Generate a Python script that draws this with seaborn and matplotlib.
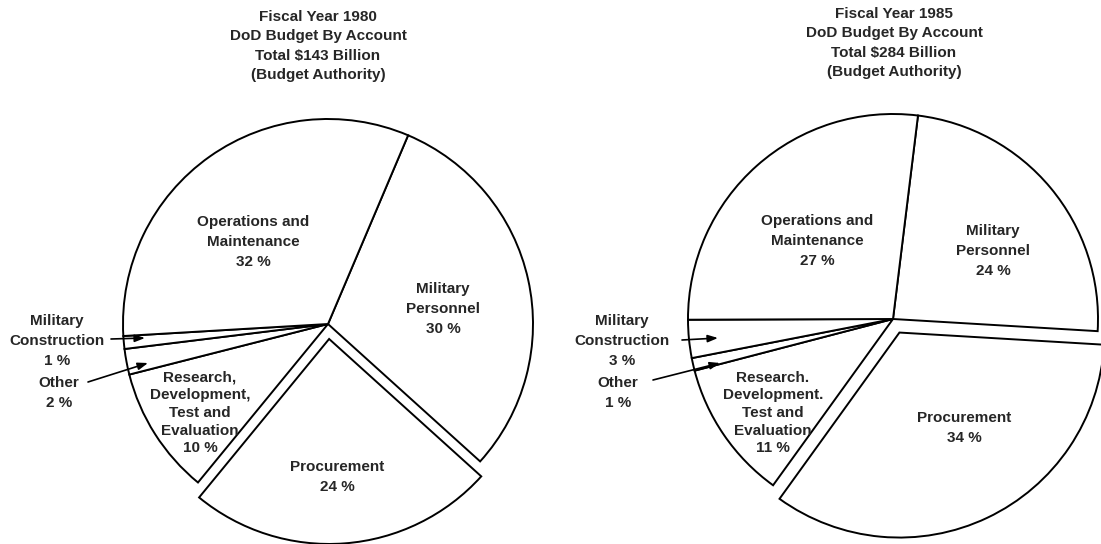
import seaborn as sns
import matplotlib.pyplot as plt

# slice order is clockwise from the Military Personnel edge
accounts = ["Military Personnel", "Procurement",
            "Research, Development, Test and Evaluation",
            "Other", "Military Construction", "Operations and Maintenance"]
share_1980 = [30, 24, 10, 2, 1, 32]
share_1985 = [24, 34, 11, 1, 3, 27]

names_1980 = ["Military\nPersonnel", "Procurement",
              "Research,\nDevelopment,\nTest and\nEvaluation",
              "Other", "Military\nConstruction", "Operations and\nMaintenance"]
names_1985 = ["Military\nPersonnel", "Procurement",
              "Research.\nDevelopment.\nTest and\nEvaluation",
              "Other", "Military\nConstruction", "Operations and\nMaintenance"]

titles = ["Fiscal Year 1980\nDoD Budget By Account\nTotal $143 Billion\n(Budget Authority)",
          "Fiscal Year 1985\nDoD Budget By Account\nTotal $284 Billion\n(Budget Authority)"]

W, H = 1101, 544

sns.set_theme(style="white")
plt.rcParams['font.family'] = ['Liberation Sans', 'DejaVu Sans']

fig = plt.figure(figsize=(W / 100, H / 100), dpi=100)
ax = fig.add_axes([0, 0, 1, 1])


def img(x, y):
    # picture coordinates (y down) -> data coordinates (y up)
    return x, H - y


def draw_pie(values, names, center, radius, start, gap, label_pos, arrows, title_pos):
    # pie() offsets exploded wedges in data units, so gap is in pixels
    explode = [gap if a == "Procurement" else 0 for a in accounts]
    ax.pie(values, explode=explode, startangle=start, counterclock=False,
           center=img(*center), radius=radius,
           colors=["white"] * len(values),
           wedgeprops=dict(edgecolor="black", linewidth=1.4))

    for name, v, pos in zip(names, values, label_pos):
        ls = 1.32 if name.count("\n") > 2 else 1.55
        ax.text(*img(*pos), f"{name}\n{v} %", ha="center", va="center",
                fontsize=11, fontweight="bold", linespacing=ls)

    for tail, head in arrows:
        ax.annotate("", xy=img(*head), xytext=img(*tail),
                    arrowprops=dict(arrowstyle="-|>,head_length=0.5,head_width=0.18",
                                    color="black", lw=1.2, shrinkA=0, shrinkB=0))

    ax.text(*img(*title_pos[0]), title_pos[1], ha="center", va="center",
            fontsize=11, fontweight="bold", linespacing=1.46)


# 1980
draw_pie(share_1980, names_1980, (328, 324), 205, 67, 15,
         [(443, 309), (337, 477), (200, 413), (59, 393), (57, 341), (253, 242)],
         [((111, 339), (145, 338)), ((88, 382), (148, 363))],
         ((318, 46), titles[0]))

# 1985
draw_pie(share_1985, names_1985, (893, 319), 205, 83, 15,
         [(993, 251), (964, 428), (773, 413), (618, 393), (622, 341), (817, 241)],
         [((682, 340), (718, 338)), ((653, 380), (720, 363))],
         ((894, 43), titles[1]))

ax.set_xlim(0, W)
ax.set_ylim(0, H)
ax.set_aspect("equal")
ax.axis("off")

fig.savefig("out.png", dpi=100, facecolor="white")
